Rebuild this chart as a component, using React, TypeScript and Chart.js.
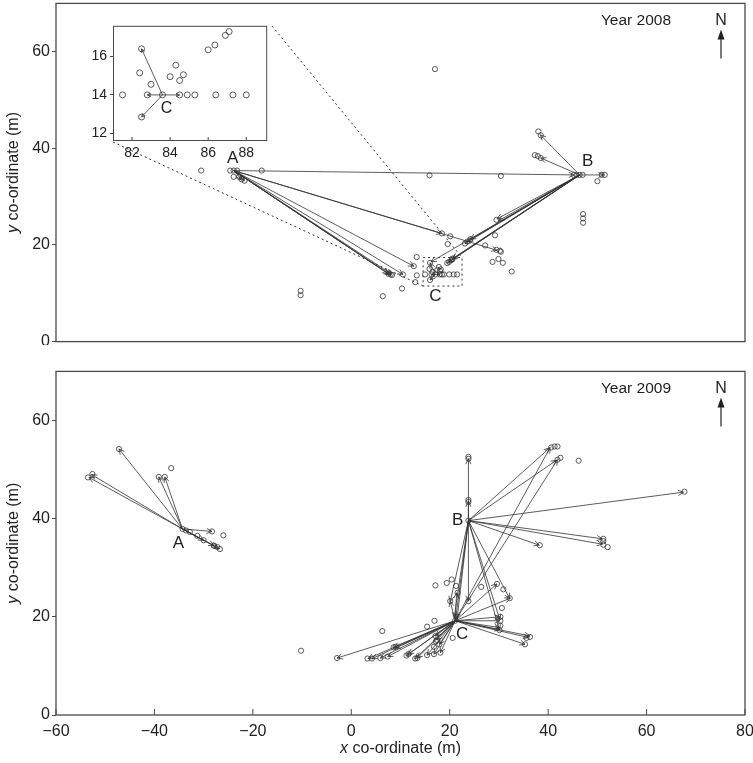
import React, { useEffect, useRef } from "react";
import { Chart, registerables } from "chart.js";
Chart.register(...registerables);

type P = [number, number];

// ---------- axis ticks ----------
const X_TICKS = [-60, -40, -20, 0, 20, 40, 60, 80];
const Y_TICKS = [0, 20, 40, 60];
const INSET_X_TICKS = [82, 84, 86, 88];
const INSET_Y_TICKS = [12, 14, 16];

// ---------- 2008 ----------
const YEAR_2008 = "Year 2008";
const SITE_A_2008: P = [-23.9, 35.4];
const SITE_B_2008: P = [46.4, 34.5];
const SITE_C_2008: P = [17.1, 13.9];
const MOVES_A_2008: P[] = [
  [45.3, 34.5], [29.6, 18.9], [18.4, 22.4], [12.7, 15.6], [10.5, 13.9],
  [7.5, 14.1], [7.7, 13.9], [8.0, 13.8], [8.2, 13.95], [-22.3, 33.6], [-21.7, 33.3],
];
const MOVES_B_2008: P[] = [
  [51.3, 34.5], [38.4, 42.8], [38.5, 38.0], [29.6, 25.4], [29.9, 25.0],
  [24.2, 21.2], [23.6, 20.7], [23.1, 20.3], [20.6, 17.2], [20.4, 17.0],
  [19.85, 16.5], [19.5, 16.25], [16.2, 16.5],
];
const MOVES_C_2008: P[] = [[16.0, 16.3], [16.0, 12.75], [16.3, 13.9], [18.0, 13.9]];
const FIXES_2008: P[] = [
  [-30.5, 35.4], [-24.6, 35.4], [-23.9, 35.4], [-23.2, 35.4], [-23.9, 34.1], [-22.8, 34.1],
  [-22.3, 33.6], [-21.7, 33.3], [-18.2, 35.4],
  [15.9, 34.4], [30.4, 34.3], [17.0, 56.4],
  [45.2, 34.5], [45.8, 34.5], [46.4, 34.5], [47.0, 34.5], [50.9, 34.5], [51.5, 34.5], [50.0, 33.2],
  [38.0, 43.5], [38.5, 42.7], [37.3, 38.6], [37.9, 38.4], [38.5, 38.0],
  [47.1, 26.4], [47.1, 25.5], [47.1, 24.6],
  [29.5, 25.2], [29.2, 22.0], [27.2, 19.9], [24.2, 21.2], [23.6, 20.7], [23.1, 20.3],
  [20.1, 21.8], [19.6, 20.2], [18.4, 22.4], [29.5, 19.0], [30.2, 18.8], [30.4, 18.6], [28.7, 16.5],
  [29.9, 17.1], [30.8, 16.3], [32.6, 14.5],
  [13.3, 17.5], [12.7, 15.6], [10.5, 13.9], [7.6, 14.0], [8.0, 13.9], [8.3, 13.8],
  [13.3, 13.7], [13.0, 12.3], [10.3, 11.0], [6.4, 9.4], [-10.3, 10.5], [-10.3, 9.6],
  [15.0, 13.9], [16.3, 13.9], [17.1, 13.9], [18.0, 13.9], [18.4, 13.9], [18.8, 13.9],
  [19.9, 13.9], [20.8, 13.9], [21.5, 13.9], [16.0, 16.3], [15.9, 15.05], [16.5, 14.45],
  [16.0, 12.75], [17.5, 14.85], [17.8, 15.45], [18.2, 14.95], [18.0, 14.65],
  [19.5, 16.25], [19.85, 16.5], [20.4, 17.0], [20.6, 17.2],
];
// zoomed box around C (main coordinates)
const ZOOM_BOX_X: P = [14.6, 22.5];
const ZOOM_BOX_Y: P = [11.5, 17.4];

// ---------- inset (2008, site C) ----------
const INSET_X_RANGE: P = [81, 89.1];
const INSET_Y_RANGE: P = [11.6, 17.6];
const INSET_SITE_C: P = [83.6, 14.0];
const INSET_MOVES_C: P[] = [[82.5, 16.4], [82.5, 12.85], [82.8, 14.0], [84.5, 14.0]];
const INSET_FIXES: P[] = [
  [81.5, 14.0], [82.8, 14.0], [83.6, 14.0], [84.5, 14.0], [84.9, 14.0], [85.3, 14.0],
  [86.4, 14.0], [87.3, 14.0], [88.0, 14.0], [82.5, 16.4], [82.4, 15.15], [83.0, 14.55],
  [82.5, 12.85], [84.0, 14.95], [84.3, 15.55], [84.7, 15.05], [84.5, 14.75],
  [86.0, 16.35], [86.35, 16.6], [86.9, 17.1], [87.1, 17.3],
];

// ---------- 2009 ----------
const YEAR_2009 = "Year 2009";
const SITE_A_2009: P = [-34.3, 37.9];
const SITE_B_2009: P = [23.8, 39.6];
const SITE_C_2009: P = [21.1, 19.2];
const MOVES_A_2009: P[] = [
  [-47.2, 54.2], [-52.8, 49.0], [-53.3, 48.4], [-39.1, 48.5], [-37.9, 48.5],
  [-28.3, 37.4], [-30.0, 35.6], [-27.9, 34.5], [-26.9, 33.9], [-27.3, 34.2],
];
const MOVES_B_2009: P[] = [
  [23.8, 52.2], [23.8, 43.5], [40.3, 54.4], [41.7, 51.9], [67.5, 45.4], [51.0, 35.9],
  [51.0, 34.8], [38.2, 34.6], [21.2, 19.5], [20.9, 19.8], [21.5, 19.6], [20.1, 23.1],
  [23.8, 23.2], [30.2, 19.4], [30.1, 17.3], [32.2, 23.7],
];
const MOVES_C_2009: P[] = [
  [-2.9, 11.6], [8.6, 13.8], [8.9, 13.6], [3.4, 11.5], [4.2, 11.5], [5.9, 11.6], [7.4, 11.9],
  [11.2, 12.1], [11.6, 12.4], [13.0, 11.5], [13.4, 11.6], [15.4, 12.2], [16.8, 12.4],
  [18.1, 12.7], [17.9, 14.4], [17.4, 15.3], [17.1, 16.1],
  [20.1, 23.2], [21.4, 24.9], [40.4, 54.5], [41.9, 52.0],
  [29.6, 26.7], [32.3, 23.8], [30.2, 20.0], [30.2, 19.2], [30.2, 17.8], [30.2, 17.4],
  [36.0, 15.8], [36.3, 16.1], [35.3, 14.4],
];
const FIXES_2009: P[] = [
  [-47.2, 54.2], [-52.6, 49.1], [-53.5, 48.4], [-39.1, 48.5], [-37.9, 48.5], [-36.6, 50.3],
  [-28.3, 37.4], [-26.0, 36.6], [-34.3, 37.9], [-33.6, 37.6], [-32.8, 37.3], [-31.3, 36.5],
  [-30.0, 35.6], [-27.9, 34.5], [-27.2, 34.2], [-26.7, 33.8],
  [23.8, 52.6], [23.8, 52.2], [23.8, 43.8], [23.8, 43.4], [23.8, 39.6], [40.6, 54.5],
  [41.3, 54.7], [41.9, 54.7], [41.9, 52.0], [42.5, 52.4], [46.2, 51.8], [67.7, 45.5],
  [51.2, 35.9], [51.2, 35.4], [51.2, 34.7], [52.1, 34.2], [38.3, 34.6],
  [-2.9, 11.6], [-10.2, 13.1], [6.3, 17.1], [8.6, 13.8], [9.0, 13.9], [3.3, 11.5], [4.2, 11.5],
  [5.9, 11.6], [7.4, 11.9], [11.2, 12.1], [11.6, 12.4], [13.0, 11.5], [13.4, 11.6],
  [15.4, 12.2], [16.8, 12.4], [18.1, 12.7], [17.9, 14.4], [17.4, 15.3], [17.1, 16.1],
  [16.8, 13.9], [17.2, 15.0], [15.4, 18.0], [16.9, 19.2], [20.6, 15.7], [17.1, 26.4],
  [19.4, 26.9], [20.4, 27.6], [21.3, 26.3], [21.6, 24.9], [20.1, 23.2], [23.8, 23.2],
  [26.4, 26.1], [29.6, 26.7], [30.9, 25.6], [32.2, 23.8], [30.6, 21.8], [30.3, 20.0],
  [30.3, 19.2], [30.3, 18.2], [30.1, 17.3], [35.6, 15.7], [36.3, 15.9], [35.3, 14.4], [21.1, 19.2],
];

// ---------- drawing helpers ----------
const FONT = "'Liberation Sans', Arial, Helvetica, sans-serif";
const INK = "#333";
const FRAME = "#4a4a4a";
const INSET_BOX = { left: 113, top: 23, right: 270, bottom: 141 };

function drawArrow(ctx: CanvasRenderingContext2D, x0: number, y0: number, x1: number, y1: number, head: number) {
  ctx.beginPath();
  ctx.moveTo(x0, y0);
  ctx.lineTo(x1, y1);
  ctx.stroke();
  const len = Math.hypot(x1 - x0, y1 - y0);
  if (len < 1) return;
  const h = Math.min(head, len * 0.8);
  const ang = Math.atan2(y1 - y0, x1 - x0);
  const a = 0.45;
  ctx.beginPath();
  ctx.moveTo(x1 - h * Math.cos(ang - a), y1 - h * Math.sin(ang - a));
  ctx.lineTo(x1, y1);
  ctx.lineTo(x1 - h * Math.cos(ang + a), y1 - h * Math.sin(ang + a));
  ctx.stroke();
}

function mixedText(ctx: CanvasRenderingContext2D, italic: string, rest: string, cx: number, cy: number, size: number) {
  ctx.font = `italic ${size}px ${FONT}`;
  const w1 = ctx.measureText(italic).width;
  ctx.font = `${size}px ${FONT}`;
  const w2 = ctx.measureText(rest).width;
  const start = cx - (w1 + w2) / 2;
  ctx.textAlign = "left";
  ctx.textBaseline = "middle";
  ctx.font = `italic ${size}px ${FONT}`;
  ctx.fillText(italic, start, cy);
  ctx.font = `${size}px ${FONT}`;
  ctx.fillText(rest, start + w1, cy);
}

function fixScale(width: number | null, height: number | null) {
  return (s: any) => {
    if (width !== null) s.width = width;
    if (height !== null) s.height = height;
    s.paddingTop = 0;
    s.paddingBottom = 0;
    s.paddingLeft = 0;
    s.paddingRight = 0;
  };
}

type Site = { name: string; at: P; moves: P[]; dx: number; dy: number; align: CanvasTextAlign };

function panelPlugin(opts: { sites: Site[]; year: string; showX: boolean; zoom: boolean }) {
  return {
    id: "panelDeco",
    afterDatasetsDraw(chart: any) {
      const { ctx, chartArea: a, scales } = chart;
      const xs = scales.x, ys = scales.y;
      const px = (p: P) => [xs.getPixelForValue(p[0]), ys.getPixelForValue(p[1])];
      ctx.save();
      // arrows
      ctx.strokeStyle = INK;
      ctx.lineWidth = 0.8;
      for (const s of opts.sites) {
        const [x0, y0] = px(s.at);
        for (const m of s.moves) {
          const [x1, y1] = px(m);
          drawArrow(ctx, x0, y0, x1, y1, 6);
        }
      }
      // site labels
      ctx.fillStyle = "#222";
      ctx.font = `17px ${FONT}`;
      ctx.textBaseline = "middle";
      for (const s of opts.sites) {
        const [x0, y0] = px(s.at);
        ctx.textAlign = s.align;
        ctx.fillText(s.name, x0 + s.dx, y0 + s.dy);
      }
      // zoom box + connectors
      if (opts.zoom) {
        ctx.setLineDash([2, 3]);
        ctx.lineWidth = 1;
        ctx.strokeStyle = "#333";
        const [bx0, by0] = px([ZOOM_BOX_X[0], ZOOM_BOX_Y[0]]);
        const [bx1, by1] = px([ZOOM_BOX_X[1], ZOOM_BOX_Y[1]]);
        ctx.strokeRect(bx0, by1, bx1 - bx0, by0 - by1);
        ctx.beginPath();
        ctx.moveTo(INSET_BOX.right + 2, INSET_BOX.top + 3);
        ctx.lineTo(bx1, by1);
        ctx.moveTo(INSET_BOX.left, INSET_BOX.bottom + 1);
        ctx.lineTo(bx0, by0);
        ctx.stroke();
        ctx.setLineDash([]);
      }
      // frame
      ctx.strokeStyle = FRAME;
      ctx.lineWidth = 1.3;
      ctx.strokeRect(a.left, a.top, a.right - a.left, a.bottom - a.top);
      // inside x ticks
      if (opts.showX) {
        ctx.lineWidth = 1;
        ctx.beginPath();
        for (const v of X_TICKS) {
          const x = xs.getPixelForValue(v);
          ctx.moveTo(x, a.bottom);
          ctx.lineTo(x, a.bottom - 6);
        }
        ctx.stroke();
      }
      // year label
      ctx.fillStyle = "#222";
      ctx.font = `15.5px ${FONT}`;
      ctx.textAlign = "center";
      ctx.textBaseline = "middle";
      ctx.fillText(opts.year, a.right - 109, a.top + 17);
      // north arrow
      const nx = a.right - 24;
      ctx.font = `16px ${FONT}`;
      ctx.fillText("N", nx, a.top + 17);
      ctx.strokeStyle = "#333";
      ctx.lineWidth = 1.3;
      ctx.beginPath();
      ctx.moveTo(nx, a.top + 55);
      ctx.lineTo(nx, a.top + 33);
      ctx.stroke();
      ctx.fillStyle = "#222";
      ctx.beginPath();
      ctx.moveTo(nx, a.top + 26);
      ctx.lineTo(nx - 3.5, a.top + 36);
      ctx.lineTo(nx + 3.5, a.top + 36);
      ctx.closePath();
      ctx.fill();
      // axis titles
      ctx.fillStyle = "#222";
      ctx.save();
      ctx.translate(14, (a.top + a.bottom) / 2);
      ctx.rotate(-Math.PI / 2);
      mixedText(ctx, "y", " co-ordinate (m)", 0, 0, 16);
      ctx.restore();
      if (opts.showX) {
        mixedText(ctx, "x", " co-ordinate (m)", (a.left + a.right) / 2, a.bottom + 34, 16);
      }
      ctx.restore();
    },
  };
}

function makePanel(canvas: HTMLCanvasElement, fixes: P[], sites: Site[], year: string, showX: boolean, zoom: boolean) {
  return new Chart(canvas, {
    type: "scatter",
    data: {
      datasets: [
        {
          data: fixes.map(([x, y]) => ({ x, y })),
          pointStyle: "circle",
          pointRadius: 2.6,
          pointHoverRadius: 2.6,
          pointBorderWidth: 0.8,
          borderColor: INK,
          backgroundColor: "rgba(0,0,0,0)",
        },
      ],
    },
    options: {
      responsive: false,
      animation: false,
      devicePixelRatio: 1,
      events: [],
      layout: { padding: { top: 1, right: 15, bottom: showX ? 0 : 1, left: 0 } },
      plugins: { legend: { display: false }, tooltip: { enabled: false } },
      scales: {
        x: {
          type: "linear",
          min: -60,
          max: 80,
          display: showX,
          afterFit: fixScale(null, showX ? 48 : 0),
          afterBuildTicks: (s: any) => { s.ticks = X_TICKS.map((v) => ({ value: v })); },
          grid: { display: false, drawTicks: false },
          border: { display: false },
          ticks: {
            padding: 7,
            color: "#222",
            font: { family: FONT, size: 16 },
            maxRotation: 0,
            autoSkip: false,
            callback: (v: any) => String(v).replace("-", "\u2212"),
          },
        },
        y: {
          type: "linear",
          min: 0,
          max: 70,
          afterFit: fixScale(56, null),
          afterBuildTicks: (s: any) => { s.ticks = Y_TICKS.map((v) => ({ value: v })); },
          grid: { drawOnChartArea: false, drawTicks: true, tickLength: 4, color: FRAME, lineWidth: 1 },
          border: { display: false },
          ticks: { padding: 2, color: "#222", font: { family: FONT, size: 16 } },
        },
      },
    } as any,
    plugins: [panelPlugin({ sites, year, showX, zoom })],
  });
}

function makeInset(canvas: HTMLCanvasElement) {
  return new Chart(canvas, {
    type: "scatter",
    data: {
      datasets: [
        {
          data: INSET_FIXES.map(([x, y]) => ({ x, y })),
          pointStyle: "circle",
          pointRadius: 3,
          pointHoverRadius: 3,
          pointBorderWidth: 0.8,
          borderColor: INK,
          backgroundColor: "rgba(0,0,0,0)",
        },
      ],
    },
    options: {
      responsive: false,
      animation: false,
      devicePixelRatio: 1,
      events: [],
      layout: { padding: { top: 1, right: 1, bottom: 0, left: 0 } },
      plugins: { legend: { display: false }, tooltip: { enabled: false } },
      scales: {
        x: {
          type: "linear",
          min: INSET_X_RANGE[0],
          max: INSET_X_RANGE[1],
          afterFit: fixScale(null, 18),
          afterBuildTicks: (s: any) => { s.ticks = INSET_X_TICKS.map((v) => ({ value: v })); },
          grid: { display: false, drawTicks: false },
          border: { display: false },
          ticks: { padding: 4, color: "#222", font: { family: FONT, size: 14 }, maxRotation: 0, autoSkip: false },
        },
        y: {
          type: "linear",
          min: INSET_Y_RANGE[0],
          max: INSET_Y_RANGE[1],
          afterFit: fixScale(33, null),
          afterBuildTicks: (s: any) => { s.ticks = INSET_Y_TICKS.map((v) => ({ value: v })); },
          grid: { drawOnChartArea: false, drawTicks: true, tickLength: 3, color: FRAME },
          border: { display: false },
          ticks: { padding: 3, color: "#222", font: { family: FONT, size: 14 } },
        },
      },
    } as any,
    plugins: [
      {
        id: "insetBg",
        beforeDatasetsDraw(chart: any) {
          const { ctx, chartArea: a } = chart;
          ctx.save();
          ctx.fillStyle = "#fff";
          ctx.fillRect(a.left, a.top, a.right - a.left, a.bottom - a.top);
          ctx.restore();
        },
        afterDatasetsDraw(chart: any) {
          const { ctx, chartArea: a, scales } = chart;
          const xs = scales.x, ys = scales.y;
          ctx.save();
          ctx.strokeStyle = INK;
          ctx.lineWidth = 0.8;
          const x0 = xs.getPixelForValue(INSET_SITE_C[0]);
          const y0 = ys.getPixelForValue(INSET_SITE_C[1]);
          for (const m of INSET_MOVES_C) {
            drawArrow(ctx, x0, y0, xs.getPixelForValue(m[0]), ys.getPixelForValue(m[1]), 4);
          }
          ctx.fillStyle = "#222";
          ctx.font = `16px ${FONT}`;
          ctx.textAlign = "center";
          ctx.textBaseline = "middle";
          ctx.fillText("C", x0 + 4, y0 + 14);
          ctx.strokeStyle = FRAME;
          ctx.lineWidth = 1;
          ctx.strokeRect(a.left + 0.5, a.top + 0.5, a.right - a.left - 1, a.bottom - a.top - 1);
          ctx.beginPath();
          for (const v of INSET_X_TICKS) {
            const x = xs.getPixelForValue(v);
            ctx.moveTo(x, a.bottom);
            ctx.lineTo(x, a.bottom - 4);
          }
          ctx.stroke();
          ctx.restore();
        },
      },
    ],
  });
}

export default function App() {
  const topRef = useRef<HTMLCanvasElement>(null);
  const botRef = useRef<HTMLCanvasElement>(null);
  const insetRef = useRef<HTMLCanvasElement>(null);

  useEffect(() => {
    const sites2008: Site[] = [
      { name: "A", at: SITE_A_2008, moves: MOVES_A_2008, dx: -1, dy: -12, align: "center" },
      { name: "B", at: SITE_B_2008, moves: MOVES_B_2008, dx: 8, dy: -14, align: "center" },
      { name: "C", at: SITE_C_2008, moves: MOVES_C_2008, dx: 0, dy: 22, align: "center" },
    ];
    const sites2009: Site[] = [
      { name: "A", at: SITE_A_2009, moves: MOVES_A_2009, dx: -4, dy: 14, align: "center" },
      { name: "B", at: SITE_B_2009, moves: MOVES_B_2009, dx: -5, dy: 0, align: "right" },
      { name: "C", at: SITE_C_2009, moves: MOVES_C_2009, dx: 7, dy: 14, align: "center" },
    ];
    const charts = [
      makePanel(topRef.current!, FIXES_2008, sites2008, YEAR_2008, false, true),
      makePanel(botRef.current!, FIXES_2009, sites2009, YEAR_2009, true, false),
      makeInset(insetRef.current!),
    ];
    return () => charts.forEach((c) => c.destroy());
  }, []);

  return (
    <div style={{ position: "fixed", left: 0, top: 0, width: 753, height: 763, overflow: "hidden", background: "#fff" }}>
      <canvas ref={topRef} width={760} height={345} style={{ position: "absolute", left: 0, top: 0 }} />
      <canvas ref={botRef} width={760} height={395} style={{ position: "absolute", left: 0, top: 368 }} />
      <canvas
        ref={insetRef}
        width={191}
        height={137}
        style={{ position: "absolute", left: INSET_BOX.left - 33, top: INSET_BOX.top - 1 }}
      />
    </div>
  );
}
